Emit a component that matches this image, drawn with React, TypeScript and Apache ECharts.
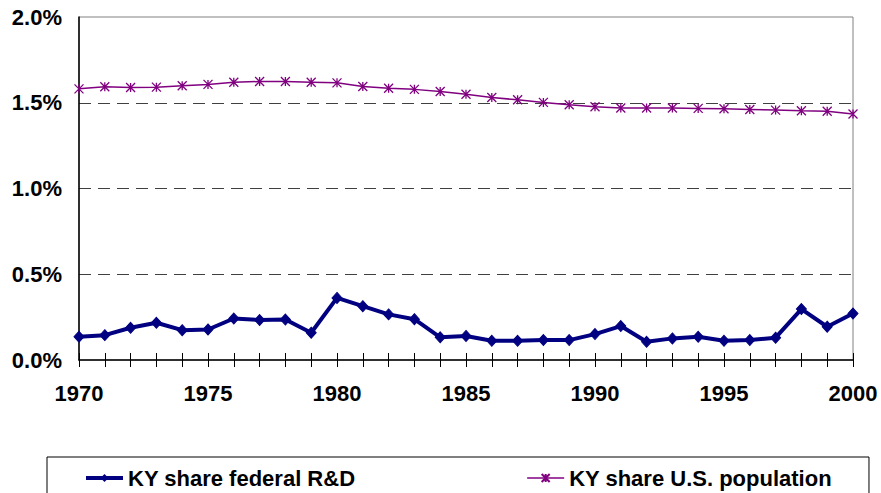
import React, { useEffect, useRef } from "react";
import * as echarts from "echarts";

const years: string[] = [];
for (let y = 1970; y <= 2000; y++) years.push(String(y));

const rdName = "KY share federal R&D";
const popName = "KY share U.S. population";

// values in percent
const rdShare = [0.135, 0.145, 0.188, 0.217, 0.174, 0.178, 0.242, 0.233, 0.236, 0.159, 0.362, 0.314, 0.266, 0.238, 0.132, 0.140, 0.112, 0.112, 0.116, 0.116, 0.151, 0.198, 0.106, 0.126, 0.135, 0.112, 0.116, 0.130, 0.297, 0.194, 0.271];
const popShare = [1.581, 1.593, 1.589, 1.591, 1.599, 1.607, 1.620, 1.624, 1.624, 1.620, 1.616, 1.595, 1.585, 1.578, 1.566, 1.550, 1.531, 1.517, 1.502, 1.488, 1.477, 1.469, 1.469, 1.469, 1.467, 1.465, 1.461, 1.457, 1.453, 1.450, 1.434];

const FONT = "Arial, 'Liberation Sans', sans-serif";

export default function App() {
  const ref = useRef<HTMLDivElement>(null);
  useEffect(() => {
    if (!ref.current) return;
    const chart = echarts.init(ref.current, undefined, { renderer: "svg" });
    chart.setOption({
      animation: false,
      backgroundColor: "#ffffff",
      textStyle: { fontFamily: FONT },
      grid: {
        left: 79,
        right: 28,
        top: 17,
        bottom: 133,
        show: true,
        borderColor: "#808080",
        borderWidth: 1,
        containLabel: false,
        outerBoundsMode: "none",
      },
      legend: {
        left: 47,
        top: 457,
        orient: "horizontal",
        padding: [10, 37, 40, 37],
        borderColor: "#000000",
        borderWidth: 1,
        itemWidth: 37,
        itemHeight: 10,
        itemGap: 171,
        itemTextGap: 4,
        textStyle: { fontSize: 22, fontWeight: "bold", color: "#000", fontFamily: FONT },
        data: [
          { name: rdName, lineStyle: { width: 4, color: "#000080" } },
          { name: popName, lineStyle: { width: 1.5, color: "#800080" } },
        ],
      },
      xAxis: [
        {
          type: "category",
          data: years,
          boundaryGap: false,
          position: "bottom",
          axisLine: { show: true, lineStyle: { color: "#000", width: 1.5 } },
          axisTick: { show: true, interval: 0, length: 7, inside: false, lineStyle: { color: "#000", width: 1 } },
          axisLabel: {
            interval: 4,
            margin: 22,
            fontSize: 22,
            fontWeight: "bold",
            color: "#000",
            fontFamily: FONT,
          },
          splitLine: { show: false },
          z: 5,
        },
        {
          type: "category",
          data: years,
          boundaryGap: false,
          position: "bottom",
          axisLine: { show: false },
          axisTick: { show: true, interval: 0, length: 7, inside: true, lineStyle: { color: "#000", width: 1 } },
          axisLabel: { show: false },
          splitLine: { show: false },
        },
      ],
      yAxis: {
        type: "value",
        min: 0,
        max: 2,
        interval: 0.5,
        axisLine: { show: true, lineStyle: { color: "#000", width: 1.5 } },
        axisTick: { show: false },
        axisLabel: {
          margin: 17,
          fontSize: 22,
          fontWeight: "bold",
          color: "#000",
          fontFamily: FONT,
          formatter: (v: number) => v.toFixed(1) + "%",
        },
        splitLine: {
          show: true,
          showMinLine: false,
          showMaxLine: false,
          lineStyle: { color: "#404040", type: [12, 7], width: 1 },
        },
      },
      series: [
        {
          name: rdName,
          type: "line",
          data: rdShare,
          symbol: "diamond",
          symbolSize: [10, 11],
          lineStyle: { color: "#000080", width: 4 },
          itemStyle: { color: "#000080", borderColor: "#000080" },
          z: 3,
        },
        {
          name: popName,
          type: "line",
          data: popShare,
          symbol: "path://M0,0L10,10M10,0L0,10M5,0L5,10",
          symbolSize: 9,
          lineStyle: { color: "#800080", width: 1.5 },
          itemStyle: { color: "#800080", borderColor: "#800080", borderWidth: 1.3 },
          z: 2,
        },
      ],
    });
    return () => chart.dispose();
  }, []);
  return (
    <div
      ref={ref}
      style={{ position: "absolute", left: 0, top: 0, width: 881, height: 493 }}
    />
  );
}
